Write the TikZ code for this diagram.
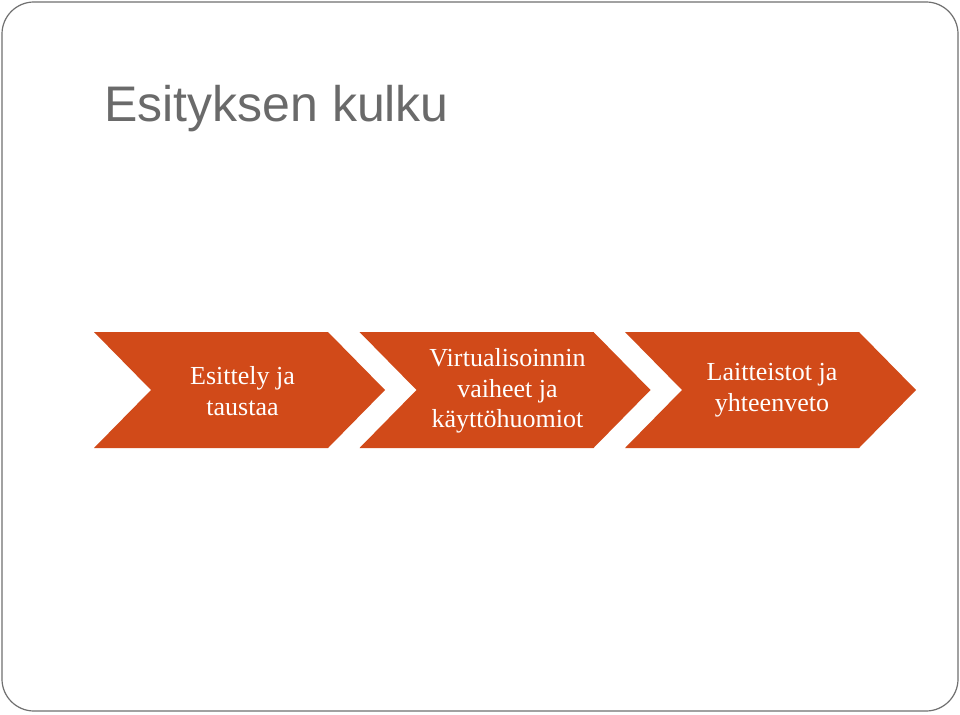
\documentclass[tikz,border=0pt]{standalone}
\usepackage{fontspec}
\setmainfont{Liberation Serif}
\newfontfamily\titlefont{Liberation Sans}
\definecolor{chev}{HTML}{D14A19}
\definecolor{framegray}{HTML}{707070}
\definecolor{titlegray}{HTML}{6A6A6A}
\begin{document}
\begin{tikzpicture}[x=1pt,y=-1pt,
  chevshape/.style={fill=chev,draw=none},
  chevtext/.style={text=white,align=center,font=\fontsize{26}{30.5}\selectfont,inner sep=0pt}]
\useasboundingbox (0,0) rectangle (960,714);
\fill[white] (0,0) rectangle (960,714);
\draw[framegray,line width=1.2pt,rounded corners=32pt] (2,2) rectangle (958,711);
\node[anchor=base west,text=titlegray,font=\titlefont\fontsize{50}{60}\selectfont,inner sep=0pt] (title) at (104,122) {Esityksen kulku};
% chevrons
\foreach \i/\x in {1/94,2/359.5,3/625}{
  \fill[chevshape] (\x,332) -- (\x+234,332) -- (\x+291,390) -- (\x+234,448) -- (\x,448) -- (\x+57,390) -- cycle;
}
\node[chevtext] (c1) at (242.5,391) {Esittely ja\\taustaa};
\node[chevtext] (c2) at (507.5,391) {Vir\kern0.5pt tualisoinnin\\vaiheet ja\\käyttöhuomiot};
\node[chevtext] (c3) at (772,390) {Laitteistot ja\\yhteenveto};
\end{tikzpicture}
\end{document}
